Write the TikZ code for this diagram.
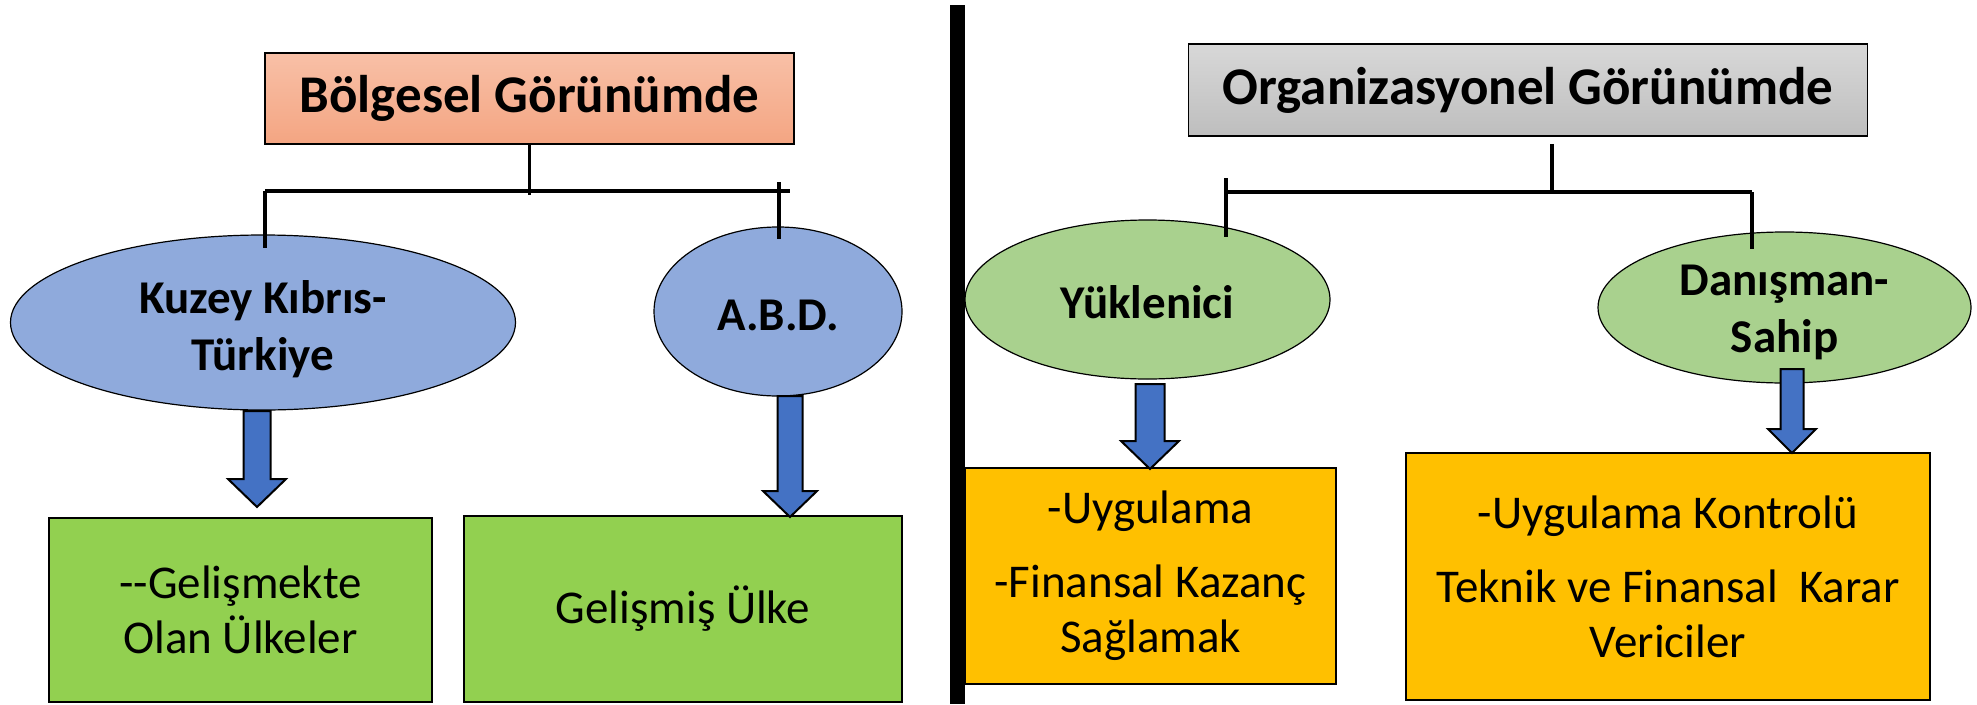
\documentclass[tikz,border=0pt]{standalone}
\usepackage{fontspec}
\setmainfont{Carlito}
\usepackage{tikz}
\usetikzlibrary{shapes.geometric}

\definecolor{salmonA}{RGB}{248,192,167}
\definecolor{salmonB}{RGB}{244,165,130}
\definecolor{grayA}{RGB}{216,216,216}
\definecolor{grayB}{RGB}{190,190,190}
\definecolor{blueEl}{RGB}{143,170,220}
\definecolor{greenEl}{RGB}{169,209,142}
\definecolor{greenBox}{RGB}{146,208,80}
\definecolor{orangeBox}{RGB}{255,192,0}
\definecolor{arrowBlue}{RGB}{68,114,196}

\begin{document}
\begin{tikzpicture}[x=1pt, y=-1pt,
    head/.style = {rectangle, draw, line width=1.5pt, inner sep=0pt, font=\fontsize{53}{64}\selectfont\bfseries},
    oval/.style = {ellipse, draw, line width=1.2pt, inner sep=0pt},
    ovaltext/.style = {inner sep=0pt, align=center, font=\fontsize{47}{57}\selectfont\bfseries},
    box/.style = {rectangle, draw, line width=1.5pt, inner sep=0pt, align=center, font=\fontsize{47}{55}\selectfont},
    link/.style = {line width=3.5pt},
    bar/.style = {line width=4.5pt},
    fatarrow/.style = {draw, line width=2pt, fill=arrowBlue, line join=miter}]
                \useasboundingbox (0,0) rectangle (1977,704);

                % headers
                \node (bolge) [head, top color=salmonA, bottom color=salmonB, minimum width=529pt, minimum height=91pt] at (529.5,98.5) {Bölgesel Görünümde};
                \node (orgz) [head, top color=grayA, bottom color=grayB, minimum width=679pt, minimum height=92pt] at (1528,90) {Organizasyonel Görünümde};

                % ovals
                \node (kkt) [oval, fill=blueEl, minimum width=505pt, minimum height=175pt] at (263,322.5) {};
                \node (abd) [oval, fill=blueEl, minimum width=248pt, minimum height=169pt] at (778,311.5) {};
                \node (yuk) [oval, fill=greenEl, minimum width=365pt, minimum height=159pt] at (1147.5,299.5) {};
                \node (dan) [oval, fill=greenEl, minimum width=373pt, minimum height=151pt] at (1784.5,307.5) {};
                \node (kktT) [ovaltext] at ([yshift=-7pt]kkt.center) {Kuzey Kıbrıs-\\Türkiye};
                \node (abdT) [ovaltext] at ([yshift=-4pt]abd.center) {A.B.D.};
                \node (yukT) [ovaltext] at ([yshift=-3pt]yuk.center) {Yüklenici};
                \node (danT) [ovaltext] at ([yshift=-5pt]dan.center) {Danışman-\\Sahip};

                % tree lines
                \coordinate (bl) at (265,191);
                \coordinate (br) at (790,191);
                \coordinate (ol) at (1226,192);
                \coordinate (or) at (1752,192);
                \draw[link] (bolge.south) -- ++(0,50);
                \draw[bar] (bl) -- (br);
                \draw[link] (bl) -- ++(0,57);
                \draw[link] (779,182) -- ++(0,57);
                \draw[link] ([xshift=24pt, yshift=-7pt]orgz.south) -- ++(0,49);
                \draw[bar] (ol) -- (or);
                \draw[link] (1226,178) -- ++(0,59);
                \draw[link] (or) -- ++(0,57);

                % boxes
                \node (gel1) [box, fill=greenBox, minimum width=383pt, minimum height=184pt] at (240.5,610) {-{}-Gelişmekte\\Olan Ülkeler};
                \node (gel2) [box, fill=greenBox, minimum width=438pt, minimum height=186pt] at (683,609) {Gelişmiş Ülke};
                \node (uyg) [box, fill=orangeBox, minimum width=371pt, minimum height=216pt] at (1150.5,576) {-Uygulama\\[19pt]-Finansal Kazanç\\Sağlamak};
                \node (kont) [box, fill=orangeBox, minimum width=524pt, minimum height=247pt] at (1668,576.5) {-Uygulama Kontrolü\\[19pt]Teknik ve Finansal\ \ Karar\\Vericiler};

                % block arrows
                \foreach \xa/\ytop/\ytip/\sw/\hw/\hd in {257/411/507/27/58/28, 790/396/517/25/54/26, 1150/384/469/29/58/28, 1792/369/453/23/48/24}
                    \draw[fatarrow] ({\xa-\sw/2},\ytop) -- ({\xa+\sw/2},\ytop) -- ({\xa+\sw/2},{\ytip-\hd}) -- ({\xa+\hw/2},{\ytip-\hd}) -- (\xa,\ytip) -- ({\xa-\hw/2},{\ytip-\hd}) -- ({\xa-\sw/2},{\ytip-\hd}) -- cycle;

                % divider
                \draw[line width=15pt] (957.5,5) -- (957.5,704);
            \end{tikzpicture}
\end{document}
